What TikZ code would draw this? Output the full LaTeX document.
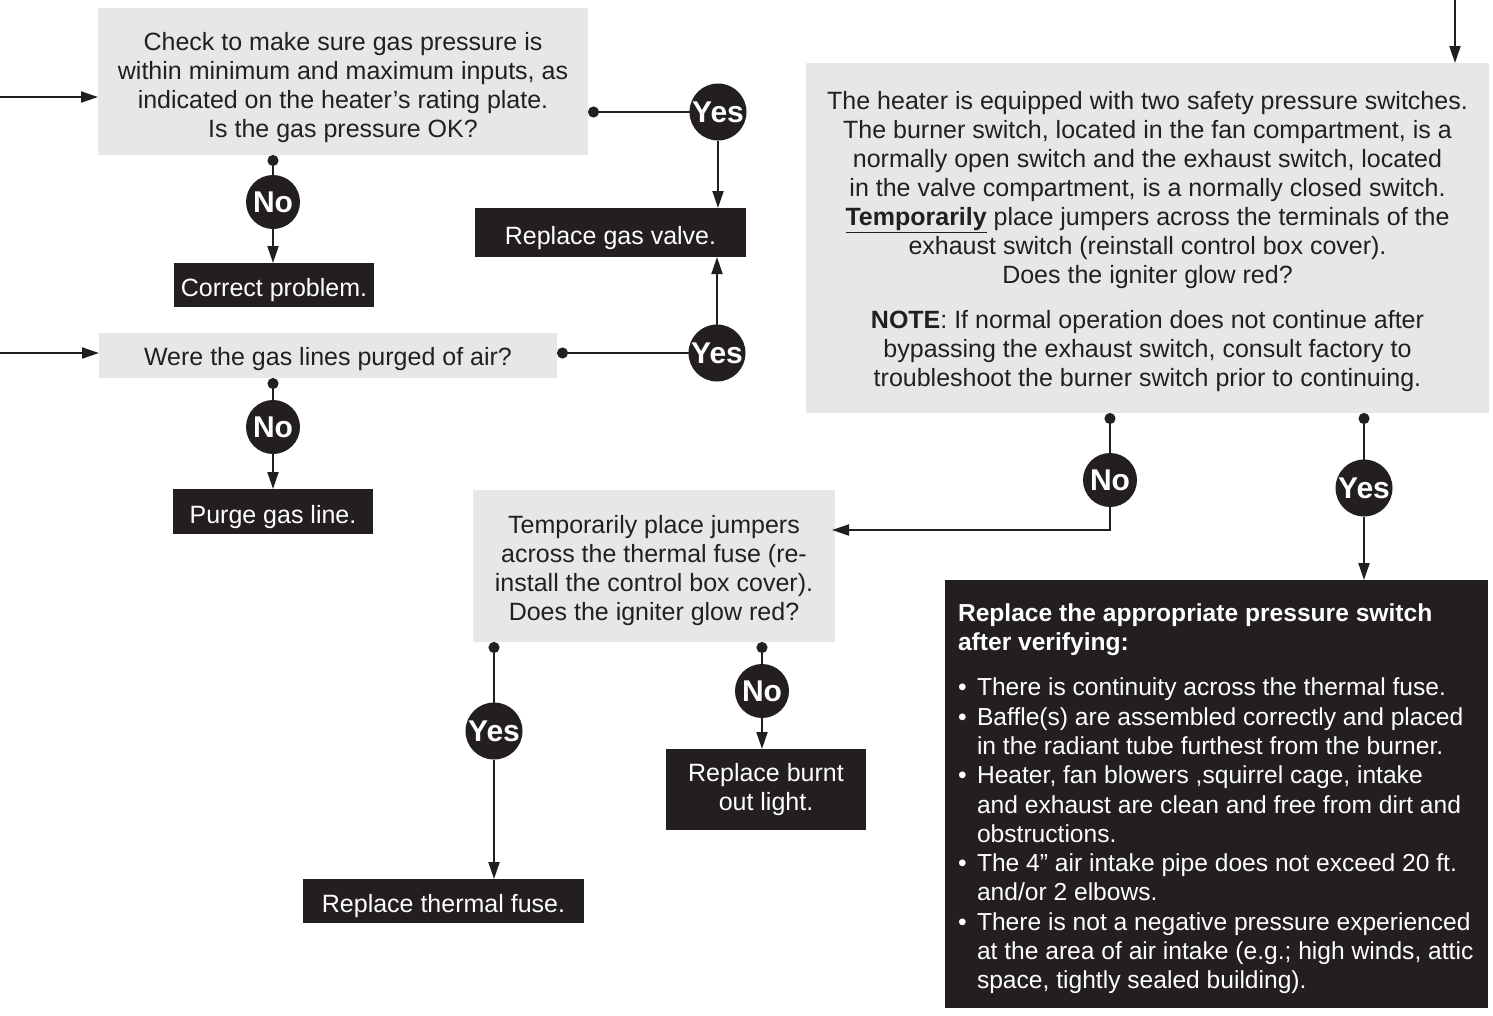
\documentclass[tikz,border=0pt]{standalone}
\usepackage{fontspec}
\setmainfont{Liberation Sans}
\usetikzlibrary{arrows.meta}
\definecolor{boxgray}{HTML}{E6E7E8}
\definecolor{ink}{HTML}{231F20}
\newcommand{\rbul}{\makebox[19pt][l]{•}}
\newcommand{\rind}{\hspace*{19pt}}
\begin{document}
\begin{tikzpicture}[x=1pt,y=-1pt,
  every node/.style={inner sep=0pt, outer sep=0pt},
  body/.style={font=\fontsize{25pt}{29pt}\selectfont},
  graybox/.style={fill=boxgray, draw=none, rectangle, text=ink, body},
  blackbox/.style={fill=ink, draw=none, rectangle, text=white, body, align=center},
  onel/.style={text height=23pt, text depth=0pt},
  txt/.style={body, text=ink, align=center, anchor=north},
  yn/.style={circle, fill=ink, text=white, font=\fontsize{30pt}{30pt}\selectfont\bfseries},
  yesc/.style={yn, minimum size=57pt},
  noc/.style={yn, minimum size=54pt},
  conn/.style={line width=2pt, draw=ink},
  arr/.style={conn, -{Triangle[length=17pt,width=11pt]}},
  dotline/.style={conn, {Circle[length=11pt]}-},
]
\useasboundingbox (0,0) rectangle (1493,1015);

% boxes
\node[graybox, minimum width=490pt, minimum height=147pt] (q1) at (343,81.5) {};
\node[txt] (q1t) at (343,32) {Check to make sure gas pressure is\\within minimum and maximum inputs, as\\indicated on the heater’s rating plate.\\Is the gas pressure OK?};
\node[blackbox, onel, minimum width=271pt, minimum height=49pt] (gv) at (610.5,232.5) {Replace gas valve.};
\node[blackbox, onel, minimum width=200pt, minimum height=44pt] (cp) at (274,285) {Correct problem.};
\node[graybox, text height=19pt, text depth=0pt, minimum width=458pt, minimum height=45pt] (q2) at (328,355.5) {Were the gas lines purged of air?};
\node[blackbox, onel, minimum width=200pt, minimum height=45pt] (pg) at (273,511.5) {Purge gas line.};
\node[graybox, minimum width=362pt, minimum height=152pt] (q3) at (654,566) {};
\node[txt] (q3t) at (654,515) {Temporarily place jumpers\\across the thermal fuse (re-\\install the control box cover).\\Does the igniter glow red?};
\node[blackbox, onel, minimum width=281pt, minimum height=44pt] (tf) at (443.5,901) {Replace thermal fuse.};
\node[blackbox, minimum width=200pt, minimum height=81pt] (bl) at (766,789.5) {Replace burnt\\out light.};
\node[graybox, minimum width=683pt, minimum height=350pt] (q4) at (1147.5,238) {};
\node[txt] (q4t) at (1147.5,91) {The heater is equipped with two safety pressure switches.\\The burner switch, located in the fan compartment, is a\\normally open switch and the exhaust switch, located\\in the valve compartment, is a normally closed switch.\\\underline{\textbf{Temporarily}} place jumpers across the terminals of the\\exhaust switch (reinstall control box cover).\\Does the igniter glow red?\\[16pt]\textbf{NOTE}: If normal operation does not continue after\\bypassing the exhaust switch, consult factory to\\troubleshoot the burner switch prior to continuing.};
\node[fill=ink, rectangle, minimum width=543pt, minimum height=428pt] (rb) at (1216.5,794) {};
\node[anchor=north west, text=white, align=left, font=\fontsize{24.6pt}{29pt}\selectfont\bfseries] (rbh) at (958,604) {Replace the appropriate pressure switch\\after verifying:};
\node[anchor=north west, text=white, align=left, font=\fontsize{24.6pt}{29.3pt}\selectfont] (rbl) at (958,678) {\rbul There is continuity across the thermal fuse.\\
\rbul Baffle(s) are assembled correctly and placed\\
\rind in the radiant tube furthest from the burner.\\
\rbul Heater, fan blowers ,squirrel cage, intake\\
\rind and exhaust are clean and free from dirt and\\
\rind obstructions.\\
\rbul The 4” air intake pipe does not exceed 20 ft.\\
\rind and/or 2 elbows.\\
\rbul There is not a negative pressure experienced\\
\rind at the area of air intake (e.g.; high winds, attic\\
\rind space, tightly sealed building).};

% decision circles
\node[yesc] (y1) at (718,112) {\makebox[0pt]{Yes}};
\node[noc]  (n1) at (273,202) {\makebox[0pt]{No}};
\node[yesc] (y2) at (717,353) {\makebox[0pt]{Yes}};
\node[noc]  (n2) at (273,427) {\makebox[0pt]{No}};
\node[yesc] (y3) at (494,731) {\makebox[0pt]{Yes}};
\node[noc]  (n3) at (762,691) {\makebox[0pt]{No}};
\node[noc]  (n4) at (1110,480) {\makebox[0pt]{No}};
\node[yesc] (y4) at (1364,488) {\makebox[0pt]{Yes}};

% free ends
\coordinate (s1) at (0,97);
\coordinate (s2) at (0,353);
\coordinate (s3) at (1455,0);

% connectors
\draw[arr] (s1) -- (q1.west |- s1);
\draw[dotline] (q1.east |- y1) -- (y1);
\draw[arr] (y1) -- (y1 |- gv.north);
\draw[dotline] (q1.south -| n1) -- (n1);
\draw[arr] (n1) -- (n1 |- cp.north);
\draw[arr] (s2) -- (q2.west |- s2);
\draw[dotline] (q2.east |- y2) -- (y2);
\draw[arr] (y2) -- (y2 |- gv.south);
\draw[dotline] (q2.south -| n2) -- (n2);
\draw[arr] (n2) -- (n2 |- pg.north);
\draw[dotline] (q3.south -| y3) -- (y3);
\draw[arr] (y3) -- (y3 |- tf.north);
\draw[dotline] (q3.south -| n3) -- (n3);
\draw[arr] (n3) -- (n3 |- bl.north);
\draw[arr] (s3) -- (s3 |- q4.north);
\draw[dotline] (q4.south -| n4) -- (n4);
\draw[arr, shorten >=-3pt] (n4) |- (q3.east |- 0,530);
\draw[dotline] (q4.south -| y4) -- (y4);
\draw[arr] (y4) -- (y4 |- rb.north);
\end{tikzpicture}
\end{document}
